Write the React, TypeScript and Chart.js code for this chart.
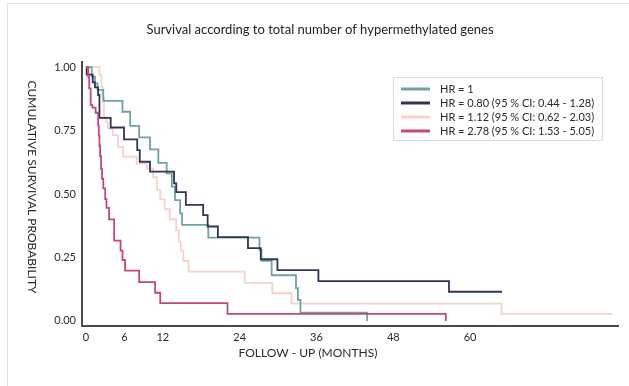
import React, { useEffect, useRef } from "react";
import { Chart, registerables } from "chart.js";

Chart.register(...registerables);

const TITLE = "Survival according to total number of hypermethylated genes";
const X_TITLE = "FOLLOW - UP (MONTHS)";
const Y_TITLE = "CUMULATIVE SURVIVAL PROBABILITY";
const X_TICKS = [0, 6, 12, 24, 36, 48, 60];
const Y_TICKS = [1, 0.75, 0.5, 0.25, 0];

const SERIES_LABELS = [
  "HR = 1",
  "HR = 0.80 (95 % CI: 0.44 - 1.28)",
  "HR = 1.12 (95 % CI: 0.62 - 2.03)",
  "HR = 2.78 (95 % CI: 1.53 - 5.05)",
];
const SERIES_COLORS = ["#6fa3a0", "#30365a", "#f6d2ca", "#c44a74"];

// HR = 1
const tealT = [0, 0.9, 1.4, 1.8, 2.7, 5.7, 6.9, 8.3, 10.0, 11.3, 12.6, 13.4, 13.9, 14.7, 15.0, 19.1, 27.1, 27.4, 29.0, 32.8, 33.1, 33.5, 43.9];
const tealS = [1.0, 0.962, 0.936, 0.91, 0.867, 0.824, 0.768, 0.723, 0.676, 0.623, 0.581, 0.529, 0.476, 0.424, 0.378, 0.328, 0.28, 0.237, 0.18, 0.129, 0.083, 0.033, 0];

// HR = 0.80
const navyT = [0, 0.1, 1.05, 1.4, 1.9, 2.1, 3.86, 5.94, 8.0, 8.4, 10.0, 13.75, 14.1, 15.6, 18.3, 19.0, 20.6, 25.3, 27.3, 29.9, 36.3, 56.7, 65];
const navyS = [1.0, 0.97, 0.94, 0.92, 0.89, 0.8, 0.762, 0.715, 0.673, 0.627, 0.588, 0.542, 0.507, 0.457, 0.417, 0.372, 0.33, 0.287, 0.243, 0.2, 0.157, 0.115, 0.115];

// HR = 1.12
const pinkT = [0, 2.1, 2.4, 2.6, 2.8, 3.1, 3.4, 4.2, 5.0, 5.8, 7.9, 9.5, 10.5, 11.1, 11.6, 12.3, 13.1, 14.1, 14.5, 14.8, 15.2, 16.0, 24.8, 29.1, 32.1, 64.9, 82.2];
const pinkS = [1.0, 0.969, 0.922, 0.88, 0.804, 0.785, 0.758, 0.732, 0.686, 0.647, 0.62, 0.6, 0.566, 0.516, 0.479, 0.44, 0.4, 0.358, 0.312, 0.277, 0.236, 0.194, 0.15, 0.109, 0.068, 0.028, 0.028];

// HR = 2.78
const redT = [0, 0.36, 0.5, 0.73, 1.0, 1.5, 1.9, 2.0, 2.1, 2.2, 2.35, 2.5, 2.7, 3.0, 3.2, 3.6, 4.4, 5.4, 5.7, 6.1, 8.3, 10.8, 11.6, 22.1, 56.2];
const redS = [1.0, 0.96, 0.916, 0.85, 0.84, 0.82, 0.77, 0.73, 0.69, 0.65, 0.6, 0.56, 0.522, 0.48, 0.445, 0.4, 0.316, 0.277, 0.24, 0.198, 0.153, 0.111, 0.07, 0.028, 0];

const FONT = "Lato, 'Open Sans', sans-serif";

const toPoints = (t: number[], s: number[]) => t.map((x, i) => ({ x, y: s[i] }));

const decor = {
  id: "decor",
  beforeDraw(chart: any) {
    const ctx = chart.ctx;
    ctx.save();
    ctx.fillStyle = "#ffffff";
    ctx.fillRect(0, 0, chart.width, chart.height);
    ctx.strokeStyle = "#d8e6e6";
    ctx.lineWidth = 1;
    ctx.strokeRect(7.5, 3.5, 660, 420);
    ctx.restore();
  },
  afterDraw(chart: any) {
    const ctx = chart.ctx;
    ctx.save();
    ctx.fillStyle = "#222";
    ctx.textAlign = "center";
    ctx.textBaseline = "middle";
    ctx.font = `13px ${FONT}`;
    ctx.fillText(TITLE, 320, 30);

    ctx.fillStyle = "#2a2a2a";
    ctx.font = `12px ${FONT}`;
    ctx.fillText(X_TITLE, 308, 353);

    ctx.save();
    ctx.translate(32, 187);
    ctx.rotate(Math.PI / 2);
    ctx.fillText(Y_TITLE, 0, 0);
    ctx.restore();

    // legend
    ctx.strokeStyle = "#cfe1e0";
    ctx.lineWidth = 1;
    ctx.strokeRect(393.5, 77.5, 209, 63);
    ctx.textAlign = "left";
    ctx.font = `11px ${FONT}`;
    const rows = [89, 103, 117, 131];
    SERIES_LABELS.forEach((lab, i) => {
      ctx.strokeStyle = SERIES_COLORS[i];
      ctx.lineWidth = 3;
      ctx.beginPath();
      ctx.moveTo(401, rows[i]);
      ctx.lineTo(430, rows[i]);
      ctx.stroke();
      ctx.fillStyle = "#2a2a2a";
      ctx.fillText(lab, 440, rows[i] + 0.5);
    });
    ctx.restore();
  },
};

export default function App() {
  const ref = useRef<HTMLCanvasElement | null>(null);
  useEffect(() => {
    if (!ref.current) return;
    const series = [
      toPoints(tealT, tealS),
      toPoints(navyT, navyS),
      toPoints(pinkT, pinkS),
      toPoints(redT, redS),
    ];
    const chart = new Chart(ref.current, {
      type: "line",
      data: {
        datasets: series.map((d, i) => ({
          label: SERIES_LABELS[i],
          data: d,
          borderColor: SERIES_COLORS[i],
          borderWidth: 1.8,
          pointRadius: 0,
          stepped: "before" as const,
          fill: false,
          order: [2, 1, 3, 0][i],
        })),
      },
      options: {
        responsive: false,
        devicePixelRatio: 1,
        animation: false,
        layout: { padding: { top: 62, right: 11, left: 0, bottom: 0 } },
        plugins: { legend: { display: false }, title: { display: false }, tooltip: { enabled: false } },
        scales: {
          x: {
            type: "linear",
            min: -0.625,
            max: 83.1,
            afterFit: (s: any) => { s.height = 60; },
            afterBuildTicks: (s: any) => { s.ticks = X_TICKS.map((v) => ({ value: v })); },
            grid: { display: false, drawTicks: false },
            border: { display: true, color: "#4a4a4a", width: 2 },
            ticks: { padding: 5, color: "#2a2a2a", font: { family: FONT, size: 11 }, maxRotation: 0, autoSkip: false, callback: (v: any) => String(v) },
          },
          y: {
            type: "linear",
            min: -0.02,
            max: 1.02,
            afterFit: (s: any) => { s.width = 82; },
            afterBuildTicks: (s: any) => { s.ticks = Y_TICKS.map((v) => ({ value: v })); },
            grid: { display: false, drawTicks: false },
            border: { display: true, color: "#4a4a4a", width: 2 },
            ticks: { padding: 6, color: "#2a2a2a", font: { family: FONT, size: 11 }, callback: (v: any) => Number(v).toFixed(2) },
          },
        },
      },
      plugins: [decor],
    });
    return () => chart.destroy();
  }, []);
  return (
    <div style={{ position: "fixed", left: 0, top: 0, width: 629, height: 386, background: "#fff" }}>
      <canvas ref={ref} width={629} height={386} style={{ width: 629, height: 386, display: "block" }} />
    </div>
  );
}
